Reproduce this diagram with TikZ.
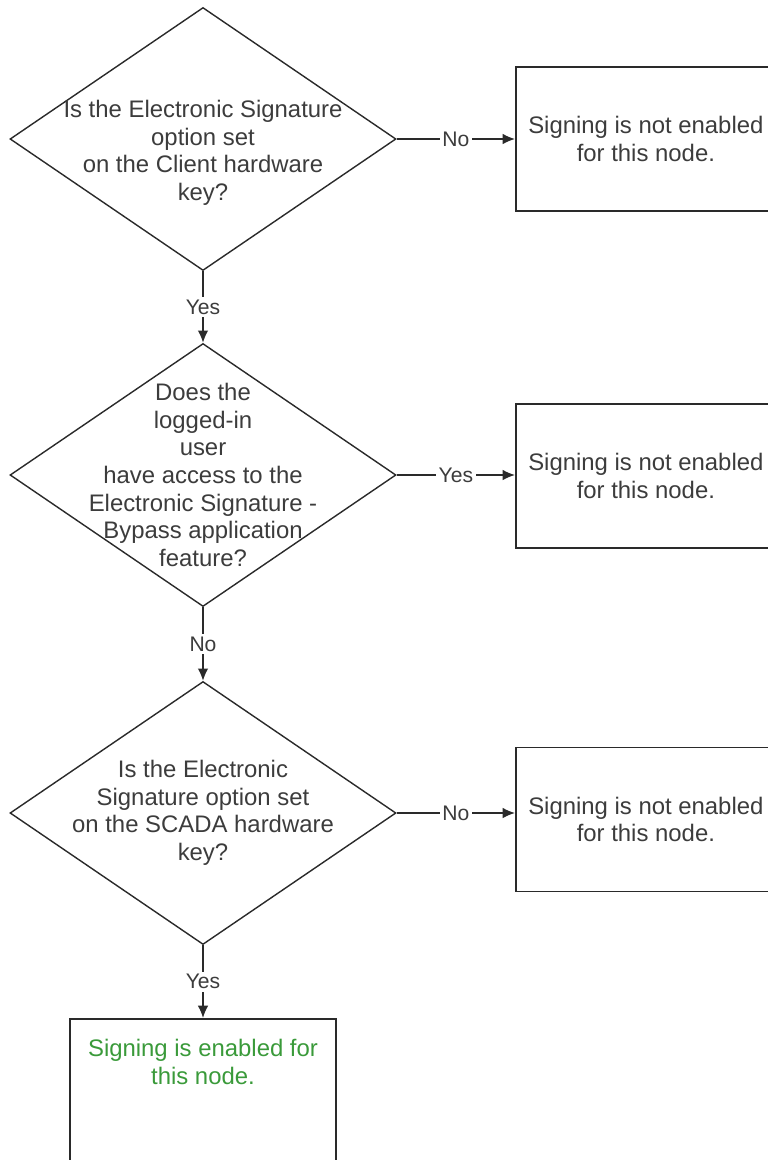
\documentclass[tikz,border=0pt]{standalone}
\usepackage{fontspec}
\setmainfont{Liberation Sans}
\usetikzlibrary{shapes.geometric,arrows.meta,positioning}
\definecolor{inkgray}{HTML}{3C3C3C}
\definecolor{rulegray}{HTML}{2A2A2A}
\definecolor{okgreen}{HTML}{3A9A3A}
\newcommand{\bodysize}{\fontsize{13.6pt}{15.7pt}\selectfont}
\newcommand{\tagsize}{\fontsize{12pt}{14pt}\selectfont}
\begin{document}
\begin{tikzpicture}[font=\bodysize, >={Latex[length=7pt,width=6pt]}]
		\tikzset{
			ask/.style=
			{diamond, draw=rulegray, line width=0.8pt, inner sep=0pt,
				minimum width=7.72cm, minimum height=5.26cm},
			asktext/.style=
			{align=center, text=inkgray, inner sep=0pt},
			stopbox/.style=
			{draw=rulegray, line width=1pt, minimum width=5.2cm, minimum height=2.88cm,
				align=center, text=inkgray},
			okbox/.style=
			{draw=rulegray, line width=1pt, minimum width=5.32cm, minimum height=3.3cm},
			oktext/.style=
			{align=center, text=okgreen, inner sep=0pt},
			flow/.style=
			{->, draw=rulegray, line width=0.8pt},
			tag/.style=
			{font=\tagsize, text=inkgray, fill=white, inner sep=1.5pt},
		}
		\useasboundingbox (0,0) rectangle (15.36,-23.2);
		\node[ask, label={[asktext, yshift=-0.28cm]center:{Is the Electronic Signature\\option set\\on the Client hardware\\key?}}] (clientkey) at (4.06,-2.78) {};
		\node[ask, label={[asktext]center:{Does the\\logged-in\\user\\have access to the\\Electronic Signature -\\Bypass application\\feature?}}] (bypass) at (4.06,-9.5) {};
		\node[ask, label={[asktext]center:{Is the Electronic\\Signature option set\\on the SCADA hardware\\key?}}] (scadakey) at (4.06,-16.26) {};
		\node[stopbox, anchor=west] (noclient) at (10.3,-2.78) {Signing is not enabled\\for this node.};
		\node[stopbox, anchor=west] (nobypass) at (10.3,-9.52) {Signing is not enabled\\for this node.};
		\node[stopbox, anchor=west] (noscada) at (10.3,-16.39) {Signing is not enabled\\for this node.};
		\node[okbox, anchor=north] (signing) at (4.06,-20.36) {};
		\node[oktext, below=0.42cm of signing.north] (signingtext) {Signing is enabled for\\this node.};
		\draw[flow] (clientkey.east) -- node[tag] {No} (clientkey.east -| noclient.west);
		\draw[flow] (clientkey.south) -- node[tag] {Yes} (bypass.north);
		\draw[flow] (bypass.east) -- node[tag] {Yes} (bypass.east -| nobypass.west);
		\draw[flow] (bypass.south) -- node[tag] {No} (scadakey.north);
		\draw[flow] (scadakey.east) -- node[tag] {No} (scadakey.east -| noscada.west);
		\draw[flow] (scadakey.south) -- node[tag] {Yes} (signing.north);
\end{tikzpicture}
\end{document}
